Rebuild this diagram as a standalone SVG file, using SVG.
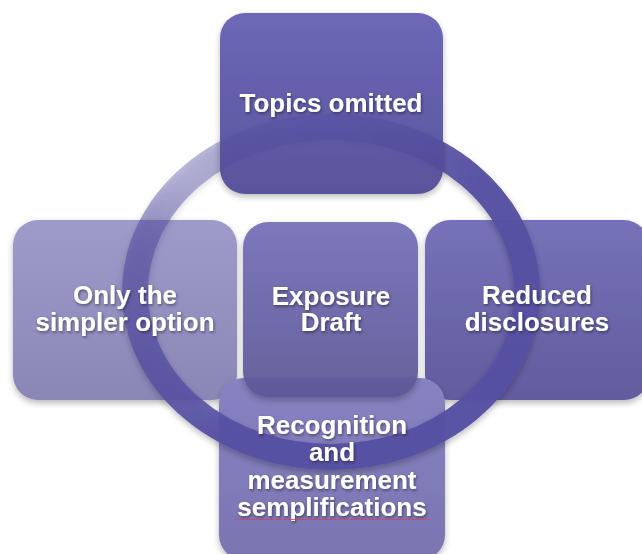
<svg xmlns="http://www.w3.org/2000/svg" width="642" height="554" viewBox="0 0 642 554">
  <defs>
    <style>
      .label { font-family: "Liberation Sans", Arial, sans-serif; font-weight: bold; font-size: 26px; fill: #ffffff; text-anchor: middle; filter: url(#textShadow); }
    </style>
    <filter id="boxShadow" x="-10%" y="-10%" width="120%" height="125%">
      <feDropShadow dx="0" dy="3" stdDeviation="3" flood-color="#000000" flood-opacity="0.28"/>
    </filter>
    <filter id="textShadow" x="-10%" y="-30%" width="120%" height="160%">
      <feDropShadow dx="1" dy="1.5" stdDeviation="1.6" flood-color="#000000" flood-opacity="0.45"/>
    </filter>
    <linearGradient id="gTop" x1="0" y1="0" x2="0" y2="1">
      <stop offset="0" stop-color="#645fb3"/>
      <stop offset="1" stop-color="#504a96"/>
    </linearGradient>
    <linearGradient id="gCenter" x1="0" y1="0" x2="0" y2="1">
      <stop offset="0" stop-color="#7570b8"/>
      <stop offset="1" stop-color="#5d5796"/>
    </linearGradient>
    <linearGradient id="gRight" x1="0" y1="0" x2="0" y2="1">
      <stop offset="0" stop-color="#7672b9"/>
      <stop offset="1" stop-color="#625c9e"/>
    </linearGradient>
    <linearGradient id="gBottom" x1="0" y1="0" x2="0" y2="1">
      <stop offset="0" stop-color="#8783c2"/>
      <stop offset="1" stop-color="#7a75b1"/>
    </linearGradient>
    <linearGradient id="gLeft" x1="0" y1="0" x2="0" y2="1">
      <stop offset="0" stop-color="#9e9aca"/>
      <stop offset="1" stop-color="#8a86b6"/>
    </linearGradient>
    <radialGradient id="gRing" gradientUnits="userSpaceOnUse" cx="178" cy="145" r="300">
      <stop offset="0" stop-color="#5650a3" stop-opacity="0.36"/>
      <stop offset="0.12" stop-color="#5650a3" stop-opacity="0.4"/>
      <stop offset="0.35" stop-color="#5650a3" stop-opacity="0.6"/>
      <stop offset="0.58" stop-color="#5650a3" stop-opacity="0.7"/>
      <stop offset="0.88" stop-color="#5650a3" stop-opacity="0.9"/>
      <stop offset="1" stop-color="#5650a3" stop-opacity="0.97"/>
    </radialGradient>
  </defs>

  <!-- side, lower and middle boxes sit beneath the ring -->
  <g id="node-left">
    <rect x="13" y="220" width="224" height="180" rx="25" fill="url(#gLeft)" filter="url(#boxShadow)"/>
  </g>

  <g id="node-right">
    <rect x="425" y="220" width="224" height="180" rx="25" fill="url(#gRight)" filter="url(#boxShadow)"/>
  </g>

  <g id="node-bottom">
    <rect x="219" y="378" width="226" height="182" rx="25" fill="url(#gBottom)" filter="url(#boxShadow)"/>
  </g>

  <g id="node-center">
    <rect x="243" y="222" width="175" height="175" rx="25" fill="url(#gCenter)" opacity="0.94" filter="url(#boxShadow)"/>
  </g>

  <!-- the cycle ring joining the boxes -->
  <g id="connectors">
    <ellipse cx="331" cy="292" rx="196" ry="165" fill="none" stroke="url(#gRing)" stroke-width="26" filter="url(#boxShadow)"/>
  </g>

  <!-- labels drawn over the ring -->
  <g id="node-left-label">
    <text class="label" x="125" y="304">Only the</text>
    <text class="label" x="125" y="331">simpler option</text>
  </g>

  <g id="node-right-label">
    <text class="label" x="537" y="304">Reduced</text>
    <text class="label" x="537" y="331">disclosures</text>
  </g>

  <g id="node-center-label">
    <text class="label" x="331" y="305">Exposure</text>
    <text class="label" x="331" y="331">Draft</text>
  </g>

  <g id="node-bottom-label">
    <text class="label" x="332" y="434">Recognition</text>
    <text class="label" x="332" y="461">and</text>
    <text class="label" x="332" y="489">measurement</text>
    <text class="label" x="332" y="516">semplifications</text>
    <line x1="235" y1="519.5" x2="429" y2="519.5" stroke="#e0405a" stroke-width="1" opacity="0.8"/>
  </g>

  <g id="node-top">
    <rect x="220" y="13" width="223" height="181" rx="25" fill="url(#gTop)" opacity="0.94" filter="url(#boxShadow)"/>
    <text class="label" x="331" y="112">Topics omitted</text>
  </g>
</svg>
